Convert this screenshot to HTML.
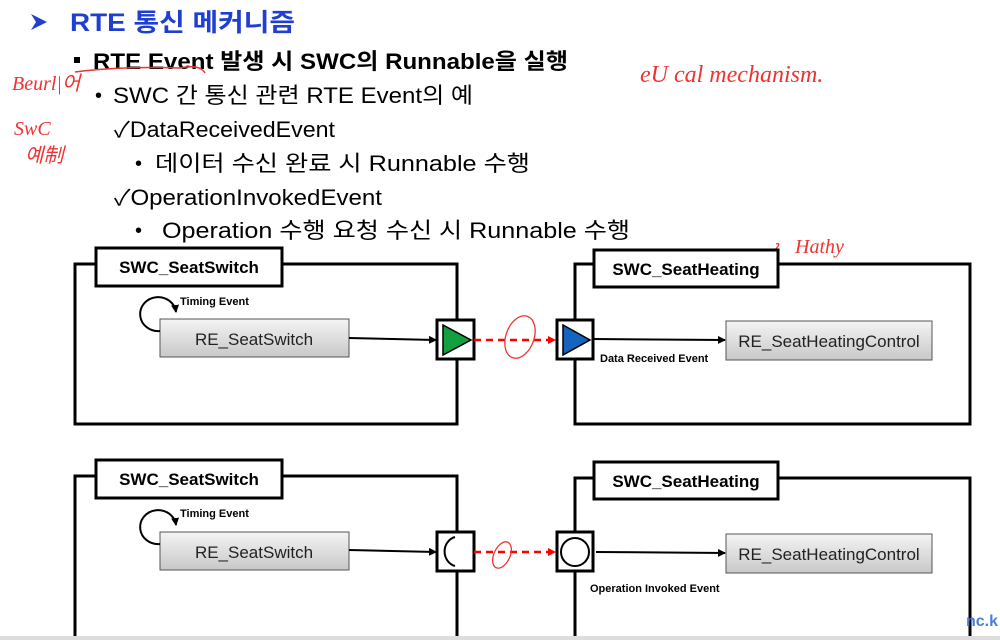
<!DOCTYPE html>
<html><head><meta charset="utf-8"><style>
html,body{margin:0;padding:0;background:#fff;width:1000px;height:640px;overflow:hidden}
svg{display:block}
.k{font-family:"Liberation Sans","Noto Sans CJK KR",sans-serif}
</style></head><body>
<svg width="1000" height="640" viewBox="0 0 1000 640" xmlns="http://www.w3.org/2000/svg">
<defs>
<linearGradient id="g" x1="0" y1="0" x2="0" y2="1"><stop offset="0" stop-color="#f4f4f4"/><stop offset="1" stop-color="#c8c8c8"/></linearGradient>
<marker id="a" markerWidth="8" markerHeight="8" refX="7" refY="4" orient="auto" markerUnits="userSpaceOnUse"><path d="M0,0 L8,4 L0,8z" fill="#000"/></marker>
<marker id="r" markerWidth="8" markerHeight="8" refX="7" refY="4" orient="auto" markerUnits="userSpaceOnUse"><path d="M0,0 L8,4 L0,8z" fill="#f00"/></marker>
</defs>
<g class="k">
<path d="M31,14 L47,22 L31,30 L36,22z" fill="#1f3fd0"/>
<text x="70" y="31" font-size="25" font-weight="bold" fill="#1f3fd0" textLength="225" lengthAdjust="spacingAndGlyphs">RTE 통신 메커니즘</text>
<rect x="74" y="57" width="6" height="6" fill="#000"/>
<text x="93" y="69" font-size="22" font-weight="bold" fill="#000" textLength="475" lengthAdjust="spacingAndGlyphs">RTE Event 발생 시 SWC의 Runnable을 실행</text>
<text x="95" y="102" font-size="20">•</text>
<text x="113" y="103" font-size="22" textLength="360" lengthAdjust="spacingAndGlyphs">SWC 간 통신 관련 RTE Event의 예</text>
<text x="114" y="137" font-size="22" textLength="221" lengthAdjust="spacingAndGlyphs">✓DataReceivedEvent</text>
<text x="135" y="170" font-size="20">•</text>
<text x="155" y="171" font-size="22" textLength="375" lengthAdjust="spacingAndGlyphs">데이터 수신 완료 시 Runnable 수행</text>
<text x="114" y="205" font-size="22" textLength="268" lengthAdjust="spacingAndGlyphs">✓OperationInvokedEvent</text>
<text x="135" y="237" font-size="20">•</text>
<text x="162" y="238" font-size="22" textLength="468" lengthAdjust="spacingAndGlyphs">Operation 수행 요청 수신 시 Runnable 수행</text>
</g>
<path d="M75,72 Q120,66 180,68 Q200,64 205,73" stroke="#e33" stroke-width="1.5" fill="none"/>
<g fill="#e33" font-family="Liberation Serif,serif" font-style="italic">
<text x="12" y="90" font-size="20">Beurl|어</text>
<text x="14" y="135" font-size="20">SwC</text>
<text x="25" y="162" font-size="20">예制</text>
<text x="640" y="82" font-size="24">eU cal  mechanism.</text>
<text x="795" y="253" font-size="20">Hathy</text>
</g>
<path d="M745,268 L775,250 Q782,242 776,244" stroke="#e33" stroke-width="1.3" fill="none"/>

<g stroke="#000" stroke-width="3" fill="none">
<rect x="75" y="264" width="382" height="160"/>
<rect x="575" y="264" width="395" height="160"/>
<rect x="75" y="476" width="382" height="162"/>
<rect x="575" y="478" width="395" height="160"/>
</g>
<g stroke="#000" stroke-width="3" fill="#fff">
<rect x="96" y="248" width="186" height="38"/>
<rect x="594" y="250" width="184" height="37"/>
<rect x="96" y="460" width="186" height="38"/>
<rect x="594" y="462" width="184" height="37"/>
</g>
<g class="k" font-weight="bold" font-size="17" text-anchor="middle">
<text x="189" y="273">SWC_SeatSwitch</text>
<text x="686" y="275">SWC_SeatHeating</text>
<text x="189" y="485">SWC_SeatSwitch</text>
<text x="686" y="487">SWC_SeatHeating</text>
</g>
<g stroke="#555" stroke-width="1" fill="url(#g)">
<rect x="160" y="319" width="189" height="38"/>
<rect x="726" y="321" width="206" height="39"/>
<rect x="160" y="532" width="189" height="38"/>
<rect x="726" y="534" width="206" height="39"/>
</g>
<g class="k" font-size="17" text-anchor="middle" fill="#222">
<text x="254" y="345">RE_SeatSwitch</text>
<text x="829" y="347">RE_SeatHeatingControl</text>
<text x="254" y="558">RE_SeatSwitch</text>
<text x="829" y="560">RE_SeatHeatingControl</text>
</g>
<g class="k" font-size="11" font-weight="bold">
<text x="180" y="305">Timing Event</text>
<text x="180" y="517">Timing Event</text>
<text x="600" y="362">Data Received Event</text>
<text x="590" y="592">Operation Invoked Event</text>
</g>
<g stroke="#000" stroke-width="2" fill="none">
<path d="M160,331 A18,17 0 1 1 176,312" marker-end="url(#a)"/>
<path d="M160,544 A18,17 0 1 1 176,525" marker-end="url(#a)"/>
<path d="M349,338 L436,340" marker-end="url(#a)"/>
<path d="M349,550 L436,552" marker-end="url(#a)"/>
<path d="M593,339 L725,340" marker-end="url(#a)"/>
<path d="M596,552 L725,553" marker-end="url(#a)"/>
</g>
<g stroke="#000" stroke-width="3" fill="#fff">
<rect x="437" y="320" width="37" height="39"/>
<rect x="557" y="320" width="36" height="39"/>
<rect x="437" y="532" width="37" height="39"/>
<rect x="557" y="532" width="36" height="39"/>
</g>
<path d="M443,325 L471,340 L443,355z" fill="#12a040" stroke="#000" stroke-width="1.5"/>
<path d="M563,325 L590,340 L563,355z" fill="#1565c0" stroke="#000" stroke-width="1.5"/>
<path d="M455,537 A14,15 0 0 0 455,566" stroke="#000" stroke-width="2" fill="none"/>
<circle cx="575" cy="552" r="14" stroke="#000" stroke-width="2" fill="none"/>
<g stroke="#f00" stroke-width="2.5" stroke-dasharray="7,5" fill="none">
<path d="M474,340 L555,340" marker-end="url(#r)"/>
<path d="M474,552 L555,552" marker-end="url(#r)"/>
</g>
<g stroke="#e33" stroke-width="1.3" fill="none">
<ellipse cx="520" cy="337" rx="14" ry="22" transform="rotate(20 520 337)"/>
<ellipse cx="502" cy="555" rx="8" ry="14" transform="rotate(25 502 555)"/>
</g>
<rect x="0" y="636" width="1000" height="4" fill="#ddd"/>
<text x="966" y="626" class="k" font-size="16" font-weight="bold" fill="#4a7fd8">nc.k</text>
</svg>
</body></html>
